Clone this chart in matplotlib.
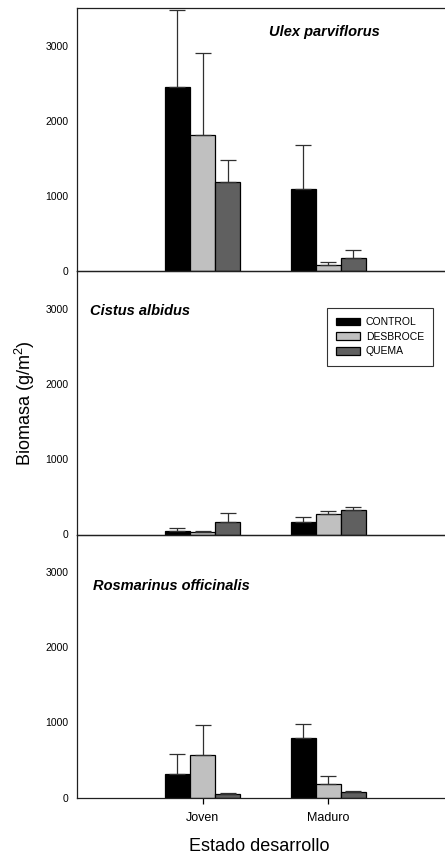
import numpy as np
import matplotlib
matplotlib.use('Agg')
import matplotlib.pyplot as plt

plt.rcParams['font.family'] = ['Liberation Sans', 'DejaVu Sans']
plt.rcParams['mathtext.fontset'] = 'custom'
plt.rcParams['mathtext.rm'] = 'Liberation Sans'
plt.rcParams['mathtext.it'] = 'Liberation Sans:italic'

estados = ['Joven', 'Maduro']
tratamientos = ['CONTROL', 'DESBROCE', 'QUEMA']
colores = ['#000000', '#c0c0c0', '#606060']
especies = ['Ulex parviflorus', 'Cistus albidus', 'Rosmarinus officinalis']

# medias (g/m2) por tratamiento: [Joven, Maduro]
ulex_media = [[2450, 1095], [1815, 90], [1185, 177]]
ulex_err = [[1025, 580], [1085, 35], [295, 112]]
cistus_media = [[48, 168], [27, 271], [164, 324]]
cistus_err = [[32, 67], [21, 36], [120, 44]]
rosm_media = [[319, 789], [571, 186], [45, 72]]
rosm_err = [[261, 190], [394, 98], [17, 17]]

medias = [ulex_media, cistus_media, rosm_media]
errores = [ulex_err, cistus_err, rosm_err]

fig = plt.figure(figsize=(4.45, 8.59), dpi=100)

W, H = 445.0, 859.0
left = 77 / W
width = 376.8 / W
alto = 263.2 / H
bottoms = [(H - 271.3) / H, (H - 534.5) / H, (H - 797.7) / H]

# posicion del texto de cada especie (fraccion de ejes)
txt_pos = [(0.657, 0.910, 'center'), (0.0345, 0.850, 'left'), (0.043, 0.804, 'left')]

x = np.arange(1, len(estados) + 1)
ancho = 0.2
axes = []
for k in range(3):
    ax = fig.add_axes([left, bottoms[k], width, alto])
    for i, trat in enumerate(tratamientos):
        m = np.array(medias[k][i])
        e = np.array(errores[k][i])
        pos = x + (i - 1) * ancho
        ax.bar(pos, m, width=ancho, color=colores[i], edgecolor='black',
               linewidth=0.9, label=trat, zorder=2)
        ax.errorbar(pos, m, yerr=[np.zeros_like(e), e], fmt='none',
                    ecolor='#303030', elinewidth=0.9, capsize=5.8,
                    capthick=0.9, zorder=3)
    ax.set_xlim(0, 3)
    ax.set_ylim(0, 3500)
    ax.set_yticks([0, 1000, 2000, 3000])
    ax.tick_params(axis='y', length=0, pad=6, labelsize=7.5)
    for s in ax.spines.values():
        s.set_linewidth(0.9)
        s.set_color('#202020')
    ax.set_facecolor('none')
    tx, ty, ha = txt_pos[k]
    ax.text(tx, ty, especies[k], transform=ax.transAxes, ha=ha, va='center',
            fontsize=10.5, fontweight='bold', fontstyle='italic')
    if k < 2:
        ax.set_xticks([])
    else:
        ax.set_xticks(x)
        ax.set_xticklabels(estados)
        ax.tick_params(axis='x', direction='out', length=4, width=0.9,
                       pad=6, labelsize=9)
    axes.append(ax)

leg = axes[1].legend(loc='upper left', bbox_to_anchor=(0.663, 0.862),
                     fontsize=7.5, frameon=True, fancybox=False,
                     handlelength=2.3, handleheight=0.75, handletextpad=0.55,
                     labelspacing=0.45, borderpad=0.9, borderaxespad=0)
leg.get_frame().set_edgecolor('black')
leg.get_frame().set_linewidth(0.8)

fig.text(25 / W, (H - 403) / H, 'Biomasa (g/m$^2$)', rotation=90,
         ha='center', va='center', fontsize=13)
fig.text(259 / W, (H - 846.7) / H, 'Estado desarrollo', ha='center',
         va='center', fontsize=13)

fig.savefig('out.png', dpi=100)
